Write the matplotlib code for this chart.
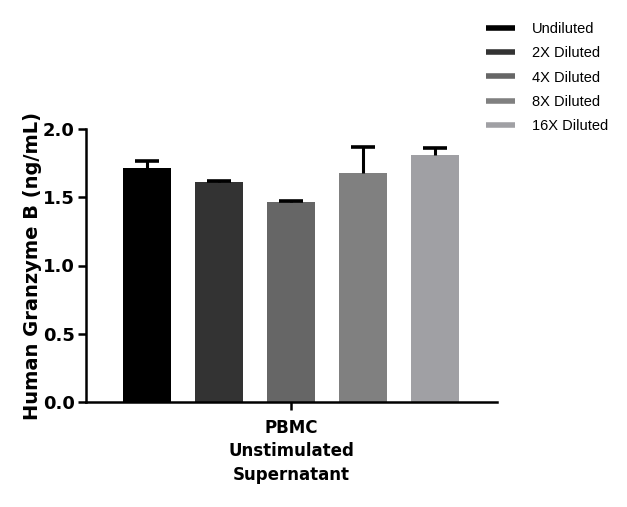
import matplotlib
matplotlib.use("Agg")
import matplotlib.pyplot as plt
from matplotlib.lines import Line2D

# values
labels = ["Undiluted", "2X Diluted", "4X Diluted", "8X Diluted", "16X Diluted"]
means = [1.714, 1.61, 1.465, 1.68, 1.81]
sems = [0.05, 0.012, 0.008, 0.19, 0.05]
colors = ["#000000", "#333333", "#666666", "#808080", "#a0a0a4"]
group = "PBMC\nUnstimulated\nSupernatant"

plt.rcParams["font.family"] = ["DejaVu Sans"]

fig = plt.figure(figsize=(6.27, 5.07), dpi=100)
W, H = 627, 507
ax = fig.add_axes([86 / W, 1 - 402 / H, (497 - 86) / W, (402 - 129) / H])

pos = list(range(len(means)))
for i in pos:
    ax.bar(i, means[i], width=0.667, color=colors[i], zorder=2)
    # upper error only, one cap on top
    ax.errorbar(i, means[i], yerr=[[0], [sems[i]]], fmt="none", ecolor="black",
                elinewidth=2.2, capsize=0, zorder=3)
    ax.plot(i, means[i] + sems[i], marker="_", markersize=17, mew=2.6,
            color="black", zorder=3)

ax.set_xlim(-0.847, 4.861)
ax.set_ylim(0, 2.0)
ax.set_yticks([0.0, 0.5, 1.0, 1.5, 2.0])
ax.set_yticklabels(["0.0", "0.5", "1.0", "1.5", "2.0"], fontsize=13, fontweight="bold")
ax.set_xticks([2])
ax.set_xticklabels([group], fontsize=12, fontweight="bold", linespacing=1.4)
ax.set_ylabel("Human Granzyme B (ng/mL)", fontsize=14, fontweight="bold", labelpad=1)

for s in ["top", "right"]:
    ax.spines[s].set_visible(False)
for s in ["left", "bottom"]:
    ax.spines[s].set_linewidth(1.8)
ax.tick_params(width=1.8, length=6, pad=2)
ax.tick_params(axis="x", pad=6)

handles = [Line2D([0], [0], color=c, lw=4, solid_capstyle="butt") for c in colors]
fig.legend(handles, labels, loc="upper left", bbox_to_anchor=(473 / W, 1 - 9 / H),
           frameon=False, prop={"family": ["Liberation Sans", "DejaVu Sans"], "size": 10.5},
           handlelength=2.0, handletextpad=1.15, labelspacing=0.7)

fig.savefig("out.png", dpi=100)
